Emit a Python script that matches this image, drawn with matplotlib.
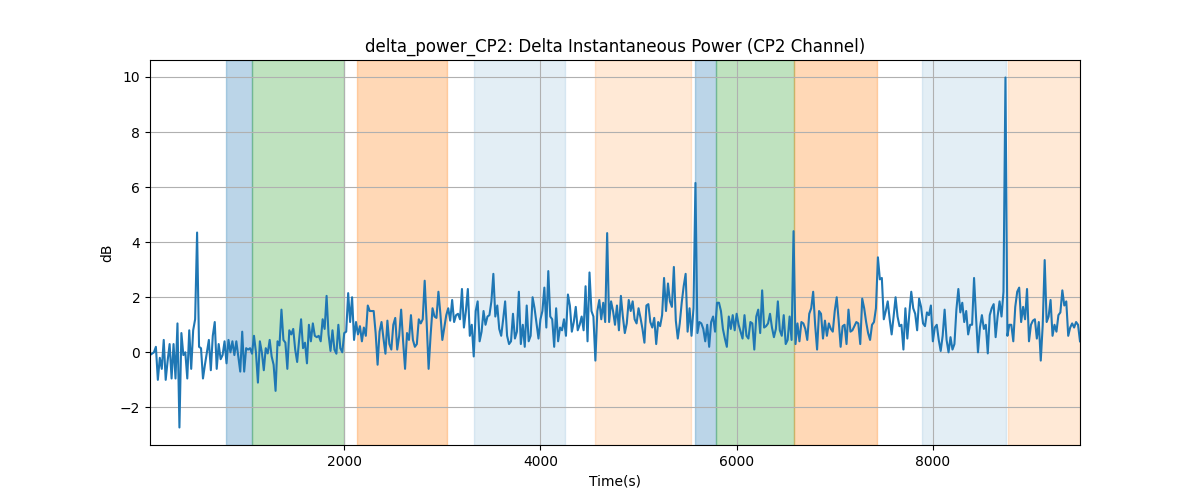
import numpy as np
import matplotlib
matplotlib.use('Agg')
import matplotlib.pyplot as plt

# sample spacing of the series (seconds)
t_start = 20
t_step = 20

# delta power values (dB), one per sample
delta_db = [
    # t 20 .. 1200
    -0.1, -0.05, 0.0, 0.2, -1.0, -0.2, -0.6, 0.45, -1.0, -0.3,
    0.3, -0.95, 0.3, -0.95, 1.05, -2.73, 0.7, -0.1, 0.0, -0.95,
    0.8, -0.6, 0.8, 1.2, 4.35, 0.2, 0.15, -0.95, -0.45, 0.0,
    0.45, -0.65, 0.6, 1.1, -0.6, 0.3, -0.25, -0.1, 0.4, -0.4,
    0.45, 0.0, 0.4, -0.1, 0.4, -0.15, -0.7, 0.75, -0.7, 0.15,
    0.1, 0.15, -0.05, 0.6, 0.0, -1.1, 0.4, 0.0, -0.65, 0.15,
    # t 1220 .. 2380
    -0.04, 0.45, -0.15, -0.45, -1.4, 0.4, 0.25, 1.55, 0.45, 0.35,
    -0.6, 0.8, 0.65, 0.85, 0.1, -0.35, 0.45, 1.2, 0.15, 0.35,
    -0.4, 1.0, 0.4, 1.05, 0.6, 0.55, 0.6, 0.4, 1.2, 0.85,
    2.05, 0.65, 0.05, 0.8, 0.1, -0.05, 1.0, 0.15, 0.0, 0.7,
    0.75, 2.15, 1.1, 2.0, 0.45, 1.1, 0.65, 0.95, 0.4, 0.9,
    0.6, 1.7, 1.5, 1.5, 1.5, 0.7, -0.45, 0.75, 1.1,
    # t 2400 .. 3580
    0.5, -0.05, 1.15, 0.3, 0.1, 1.0, 1.25, 0.1, 0.6, 1.55,
    0.4, -0.6, 0.7, 0.45, 1.35, 0.45, 0.2, 0.3, 1.2, 1.05,
    1.2, 2.6, 1.1, -0.6, 0.6, 1.6, 1.3, 1.25, 2.2, 1.4,
    0.45, 0.9, 1.35, 1.6, 1.15, 1.9, 1.1, 1.35, 1.4, 1.2,
    2.3, 0.9, 1.5, 2.3, 0.6, 1.0, -0.15, 1.5, 1.85, 0.4,
    0.75, 1.5, 1.0, 1.3, 1.35, 1.85, 2.85, 1.3, 1.7, 0.85,
    # t 3600 .. 4760
    0.6, 1.2, 1.85, 0.6, 0.3, 0.4, 1.4, 0.5, 0.75, 2.2,
    0.3, 1.0, 0.2, 1.7, 0.4, 0.6, 2.0, 1.6, 1.05, 0.5,
    1.2, 1.5, 2.35, 0.9, 2.95, 1.3, 1.2, 0.2, 1.6, 0.4,
    0.9, 0.8, 1.2, 0.6, 2.1, 1.7, 0.75, 1.1, 1.65, 0.8,
    1.0, 1.3, 0.8, 2.4, 0.4, 2.9, 1.5, 1.3, -0.3, 1.5,
    1.9, 1.2, 1.8, 1.1, 4.33, 1.1, 1.85, 1.5, 1.0,
    # t 4780 .. 5940
    1.7, 0.8, 2.05, 1.3, 0.7, 1.05, 1.9, 1.5, 1.85, 1.2,
    1.05, 1.6, 1.25, 0.85, 0.35, 1.7, 1.75, 1.1, 0.9, 1.25,
    0.3, 1.1, 0.95, 1.35, 2.7, 1.5, 2.5, 1.85, 1.65, 3.1,
    1.15, 0.5, 1.05, 1.8, 2.4, 2.85, 0.75, 1.6, 0.6, 1.6,
    6.15, 0.7, 1.1, 1.05, 0.85, 0.4, 1.0, 0.2, 1.1, 1.3,
    0.75, 1.8, 1.8, 1.5, 0.85, 0.5, 0.2, 1.3, 0.85,
    # t 5960 .. 7120
    1.35, 0.8, 1.4, 1.0, 0.75, 0.5, 1.35, 0.6, 0.5, 1.1,
    1.05, 0.1, 1.3, 1.55, 0.7, 2.25, 0.9, 0.95, 1.05, 1.4,
    0.9, 0.55, 0.85, 1.85, 0.8, 0.6, 1.35, 0.3, 0.45, 1.3,
    0.45, 4.4, 0.3, 1.05, 0.4, 1.1, 1.05, 0.85, 0.45, 1.4,
    1.6, 2.2, 1.0, 0.1, 1.5, 1.4, 0.5, 1.15, 0.6, 1.05,
    0.85, 0.75, 1.5, 2.0, 1.15, 0.2, 0.95, 1.0, 0.3,
    # t 7140 .. 8300
    1.55, 0.75, 0.8, 0.95, 1.1, 1.05, 0.3, 1.95, 1.6, 1.1,
    0.7, 0.45, 1.0, 1.1, 1.6, 3.45, 2.65, 2.7, 1.2, 1.5,
    1.85, 1.2, 0.65, 1.3, 2.0, 1.3, 0.95, 1.0, 0.1, 1.6,
    0.5, 1.4, 2.2, 1.6, 1.4, 0.8, 1.95, 1.65, 1.05, 0.95,
    1.45, 1.35, 1.7, 0.4, 0.9, 1.0, 0.45, 0.05, 0.6, 1.55,
    0.45, 0.0, 0.55, 0.1, 0.3, 1.55, 2.3, 1.45, 1.8,
    # t 8320 .. 9500
    1.1, 1.5, 0.65, 1.0, 1.0, 2.7, 1.3, 0.0, 0.9, 1.35,
    0.85, 1.0, -0.04, 1.35, 1.6, 1.75, 0.55, 1.3, 1.85, 1.3,
    2.2, 9.98, 0.6, 1.0, 1.0, 0.4, 1.65, 2.2, 2.35, 1.1,
    1.65, 1.2, 2.3, 0.4, 1.0, 1.15, 1.2, 0.5, 1.1, -0.3,
    1.0, 3.35, 1.1, 1.3, 1.9, 0.6, 1.0, 0.75, 1.35, 1.45,
    2.25, 1.7, 1.85, 0.6, 0.9, 1.05, 0.9, 1.1, 1.0, 0.4,
]

# shaded phases: start, end (s)
span_starts = [790, 1060, 2130, 3320, 4560, 5580, 5790, 6580, 7890, 8770]
span_ends = [1060, 2000, 3050, 4250, 5530, 5790, 6580, 7430, 8750, 9500]
span_colors = ['C0', 'C2', 'C1', 'C0', 'C1', 'C0', 'C2', 'C1', 'C0', 'C1']
span_alphas = [0.3, 0.3, 0.3, 0.12, 0.17, 0.3, 0.3, 0.3, 0.12, 0.17]


def main():
    values = np.array(delta_db)
    times = t_start + t_step * np.arange(len(values))

    fig, ax = plt.subplots(figsize=(12, 5), dpi=100)

    for s, e, c, a in zip(span_starts, span_ends, span_colors, span_alphas):
        ax.axvspan(s, e, color=c, alpha=a)

    ax.plot(times, values, color='C0')

    ax.set_xlim(times[0], times[-1])
    ax.set_title('delta_power_CP2: Delta Instantaneous Power (CP2 Channel)')
    ax.set_xlabel('Time(s)')
    ax.set_ylabel('dB')
    ax.grid(True)

    fig.savefig('out.png')


if __name__ == '__main__':
    main()
